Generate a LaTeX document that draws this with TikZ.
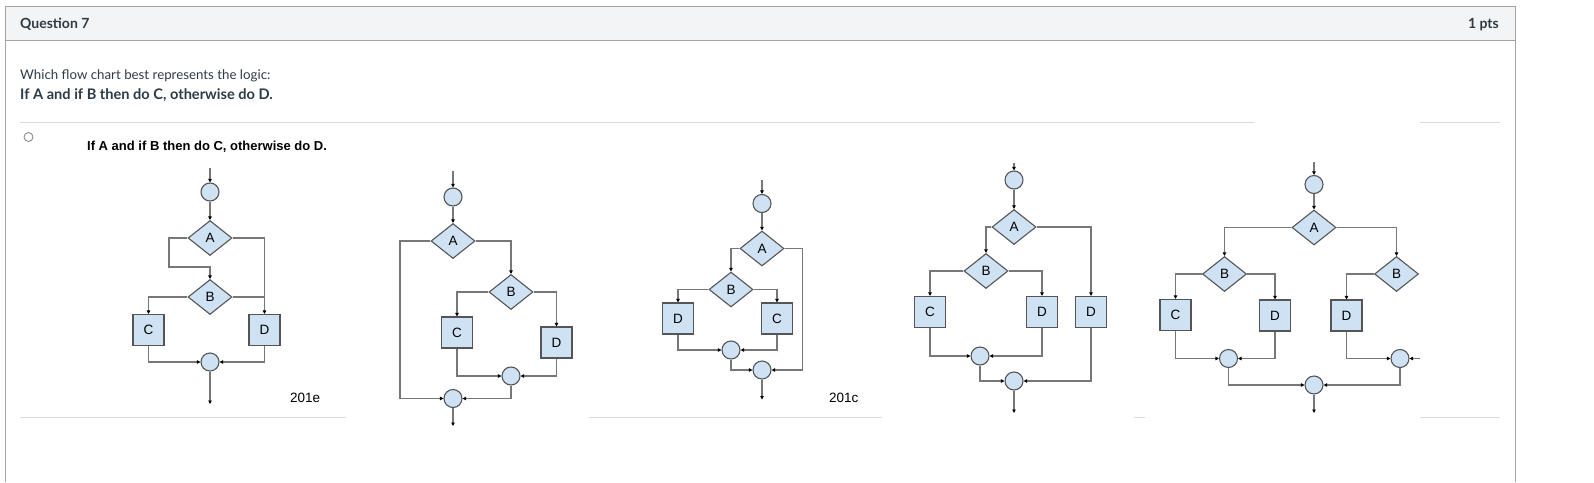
\documentclass[tikz,border=0pt]{standalone}
\usepackage{fontspec}
\setmainfont{Lato}
\newfontfamily\arialf{Liberation Sans}
\usetikzlibrary{shapes.geometric,arrows.meta}
\definecolor{nodeblue}{HTML}{CFE2F3}
\definecolor{nodeborder}{HTML}{555555}
\definecolor{linegray}{HTML}{777777}
\definecolor{panelborder}{HTML}{A3A3A3}
\definecolor{headbg}{HTML}{F3F4F5}
\definecolor{sepgray}{HTML}{DADADA}
\definecolor{txt}{HTML}{2D3B45}
\begin{document}
\begin{tikzpicture}[x=1pt,y=-1pt,
  conn/.style={draw=linegray,line width=1.1pt,-{Triangle[length=3.5pt,width=3.5pt,color=black]}},
  plain/.style={draw=linegray,line width=1.1pt},
  cir/.style={circle,draw=nodeborder,fill=nodeblue,line width=1.1pt,minimum size=18pt,inner sep=0pt},
  dia/.style={diamond,draw=nodeborder,fill=nodeblue,line width=1.1pt,minimum width=44pt,minimum height=35pt,inner sep=0pt,font=\arialf\fontsize{13.5}{13.5}\selectfont},
  box/.style={rectangle,draw=nodeborder,fill=nodeblue,line width=1.1pt,minimum size=31pt,inner sep=0pt,font=\arialf\fontsize{13.5}{13.5}\selectfont},
  sep/.style={draw=sepgray,line width=1pt},
  lab/.style={font=\arialf\fontsize{13.5}{13.5}\selectfont,anchor=base west,inner sep=0pt}
]
\useasboundingbox (0,0) rectangle (1594,482);
% panel
\fill[headbg] (5,6) rectangle (1515,40);
\draw[panelborder,line width=1pt] (5,482) -- (5,6) -- (1515,6) -- (1515,482);
\draw[panelborder,line width=1pt] (5,40) -- (1515,40);
\node[anchor=base west,inner sep=0pt,text=txt,font=\bfseries\fontsize{14}{14}\selectfont] (q) at (20,28) {Question 7};
\node[anchor=base east,inner sep=0pt,text=txt,font=\bfseries\fontsize{14}{14}\selectfont] (pts) at (1499,28) {1 pts};
\node[anchor=base west,inner sep=0pt,text=txt,font=\fontsize{13.3}{13.3}\selectfont] (w) at (20,79) {Which flow chart best represents the logic:};
\node[anchor=base west,inner sep=0pt,text=txt,font=\bfseries\fontsize{14.6}{14.6}\selectfont] (ifa) at (20,99) {If A and if B then do C, otherwise do D.};
% separators
\draw[sep] (20,122) -- (1254,122);
\draw[sep] (1420,122) -- (1500,122);
\draw[sep] (20,417) -- (346,417);
\draw[sep] (589,417) -- (882,417);
\draw[sep] (1134,417) -- (1145,417);
\draw[sep] (1420,417) -- (1500,417);
% radio
\node[circle,draw=gray,line width=0.8pt,minimum size=9pt,inner sep=0pt] (radio) at (28.5,137) {};
\node[anchor=base west,inner sep=0pt,font=\arialf\bfseries\fontsize{13}{13}\selectfont] (title) at (87,150.5) {If A and if B then do C, otherwise do D.};

% ---------- chart 1 ----------
\coordinate (i1) at (210,168);
\node[cir] (s1) at (210,192) {};
\node[dia] (A1) at (210,238) {A};
\node[dia] (B1) at (210,297) {B};
\node[box] (C1) at (148.5,330) {C};
\node[box] (D1) at (264.5,330) {D};
\node[cir] (m1) at (210,362) {};
\coordinate (o1) at (210,404);
\draw[conn] (i1) -- (s1);
\draw[conn] (s1) -- (A1);
\draw[conn] (A1.west) -| (169,267) -| (B1.north);
\draw[conn] (A1.east) -| (D1.north);
\draw[plain] (B1.east) -- (264.5,297);
\draw[conn] (B1.west) -| (C1.north);
\draw[conn] (C1.south) |- (m1.west);
\draw[conn] (D1.south) |- (m1.east);
\draw[conn] (m1) -- (o1);
\node[lab] (t1) at (290,402) {201e};

% ---------- chart 2 ----------
\coordinate (i2) at (453,171);
\node[cir] (s2) at (453,197) {};
\node[dia] (A2) at (453,241) {A};
\node[dia] (B2) at (511,292) {B};
\node[box] (C2) at (457,332.5) {C};
\node[box] (D2) at (556.5,342.5) {D};
\node[cir] (m2a) at (511,376) {};
\node[cir] (m2b) at (453,398.5) {};
\coordinate (o2) at (453,426);
\draw[conn] (i2) -- (s2);
\draw[conn] (s2) -- (A2);
\draw[conn] (A2.west) -| (400,398.5) -- (m2b.west);
\draw[conn] (A2.east) -| (B2.north);
\draw[conn] (B2.west) -| (C2.north);
\draw[conn] (B2.east) -| (D2.north);
\draw[conn] (C2.south) |- (m2a.west);
\draw[conn] (D2.south) |- (m2a.east);
\draw[conn] (m2a.south) |- (m2b.east);
\draw[conn] (m2b) -- (o2);

% ---------- chart 3 ----------
\coordinate (i3) at (762,180);
\node[cir] (s3) at (762,203.5) {};
\node[dia] (A3) at (762,248.5) {A};
\node[dia] (B3) at (731,289.5) {B};
\node[box] (D3) at (678,318.5) {D};
\node[box] (C3) at (777,318.5) {C};
\node[cir] (m3a) at (731,350) {};
\node[cir] (m3b) at (762,370) {};
\coordinate (o3) at (762,399.5);
\draw[conn] (i3) -- (s3);
\draw[conn] (s3) -- (A3);
\draw[conn] (A3.west) -| (B3.north);
\draw[conn] (A3.east) -| (802.5,370) -- (m3b.east);
\draw[conn] (B3.west) -| (D3.north);
\draw[conn] (B3.east) -| (C3.north);
\draw[conn] (D3.south) |- (m3a.west);
\draw[conn] (C3.south) |- (m3a.east);
\draw[conn] (m3a.south) |- (m3b.west);
\draw[conn] (m3b) -- (o3);
\node[lab] (t3) at (829,402) {201c};

% ---------- chart 4 ----------
\coordinate (i4) at (1014,163);
\node[cir] (s4) at (1014,180) {};
\node[dia] (A4) at (1014,227) {A};
\node[dia] (B4) at (986,271) {B};
\node[box] (C4) at (930,312) {C};
\node[box] (D4a) at (1042,312) {D};
\node[box] (D4b) at (1091,312) {D};
\node[cir] (m4a) at (980,356) {};
\node[cir] (m4b) at (1014,381) {};
\coordinate (o4) at (1014,413);
\draw[conn] (i4) -- (s4);
\draw[conn] (s4) -- (A4);
\draw[conn] (A4.west) -| (B4.north);
\draw[conn] (A4.east) -| (D4b.north);
\draw[conn] (B4.west) -| (C4.north);
\draw[conn] (B4.east) -| (D4a.north);
\draw[conn] (C4.south) |- (m4a.west);
\draw[conn] (D4a.south) |- (m4a.east);
\draw[conn] (m4a.south) |- (m4b.west);
\draw[conn] (D4b.south) |- (m4b.east);
\draw[conn] (m4b) -- (o4);

% ---------- chart 5 ----------
\coordinate (i5) at (1314,162);
\node[cir] (s5) at (1314,184.5) {};
\node[dia] (A5) at (1314,227.5) {A};
\node[dia] (B5a) at (1224.5,274) {B};
\node[dia] (B5b) at (1396.5,274) {B};
\node[box] (C5) at (1175.5,315) {C};
\node[box] (D5a) at (1275,315.5) {D};
\node[box] (D5b) at (1346.5,315.5) {D};
\node[cir] (m5a) at (1228.5,358.5) {};
\node[cir] (m5b) at (1400,358.5) {};
\node[cir] (m5c) at (1314,385) {};
\coordinate (st5) at (1420,358.5);
\coordinate (o5) at (1314,413);
\draw[conn] (i5) -- (s5);
\draw[conn] (s5) -- (A5);
\draw[conn] (A5.west) -| (B5a.north);
\draw[conn] (A5.east) -| (B5b.north);
\draw[conn] (B5a.west) -| (C5.north);
\draw[conn] (B5a.east) -| (D5a.north);
\draw[conn] (B5b.west) -| (D5b.north);
\draw[conn] (C5.south) |- (m5a.west);
\draw[conn] (D5a.south) |- (m5a.east);
\draw[conn] (D5b.south) |- (m5b.west);
\draw[conn] (st5) -- (m5b.east);
\draw[conn] (m5a.south) |- (m5c.west);
\draw[conn] (m5b.south) |- (m5c.east);
\draw[conn] (m5c) -- (o5);
\end{tikzpicture}
\end{document}
